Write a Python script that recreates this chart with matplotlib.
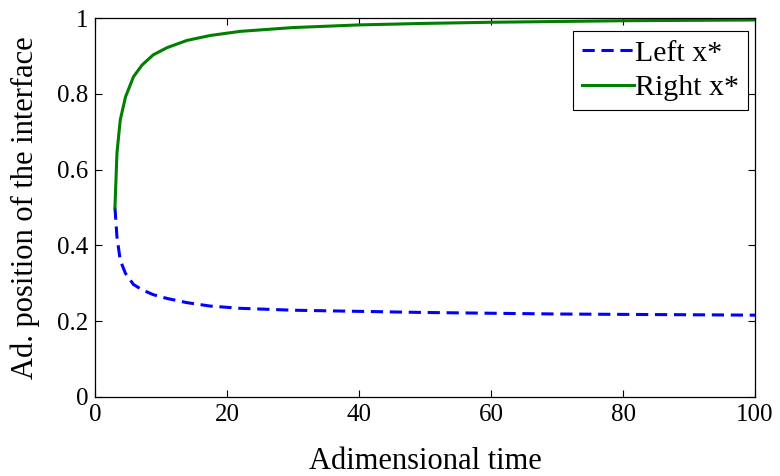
import numpy as np
import matplotlib.pyplot as plt

# adimensional time and interface positions
time = [3.0, 3.3, 3.8, 4.6, 5.8, 7.1, 8.8, 10.9, 13.9, 17.4, 22, 30, 40, 50, 60, 70, 80, 90, 100]
left_x = [0.50, 0.423, 0.361, 0.326, 0.297, 0.283, 0.270, 0.260, 0.249, 0.240, 0.234, 0.229,
          0.226, 0.223, 0.221, 0.219, 0.218, 0.217, 0.216]
right_x = [0.50, 0.643, 0.731, 0.792, 0.845, 0.876, 0.903, 0.922, 0.941, 0.954, 0.965, 0.975,
           0.982, 0.986, 0.989, 0.991, 0.993, 0.994, 0.995]

xticks = [0, 20, 40, 60, 80, 100]
yticks = [0, 0.2, 0.4, 0.6, 0.8, 1]
ytick_labels = ['0', '0.2', '0.4', '0.6', '0.8', '1']

plt.rcParams['font.family'] = ['Liberation Serif', 'DejaVu Serif']
plt.rcParams['font.size'] = 17


def main():
    fig = plt.figure(figsize=(7.8, 4.76), dpi=100)
    ax = fig.add_axes([0.122, 0.166, 0.846, 0.796])

    ax.plot(time, left_x, color='#0000ff', lw=2.2, ls=(0, (4, 2.2)), label='Left x*')
    ax.plot(time, right_x, color='#007f00', lw=2.2, label='Right x*')

    ax.set_xlim(0, 100)
    ax.set_ylim(0, 1)
    ax.set_xticks(xticks)
    ax.set_yticks(yticks)
    ax.set_yticklabels(ytick_labels)
    ax.tick_params(direction='in', top=True, right=True, length=5, width=0.8, pad=5,
                   labelsize=18)
    for s in ax.spines.values():
        s.set_linewidth(0.9)

    ax.set_xlabel('Adimensional time', fontsize=22, labelpad=15)
    ax.set_ylabel('Ad. position of the interface', fontsize=22, labelpad=12)

    leg = ax.legend(loc='upper right', bbox_to_anchor=(0.99, 0.966), fancybox=False,
                    edgecolor='black', framealpha=1, handlelength=1.75, fontsize=21.5,
                    handletextpad=0.05, borderpad=0.3, labelspacing=0.25, borderaxespad=0)
    leg.get_frame().set_linewidth(0.8)

    fig.savefig('out.png', dpi=100)


if __name__ == '__main__':
    main()
